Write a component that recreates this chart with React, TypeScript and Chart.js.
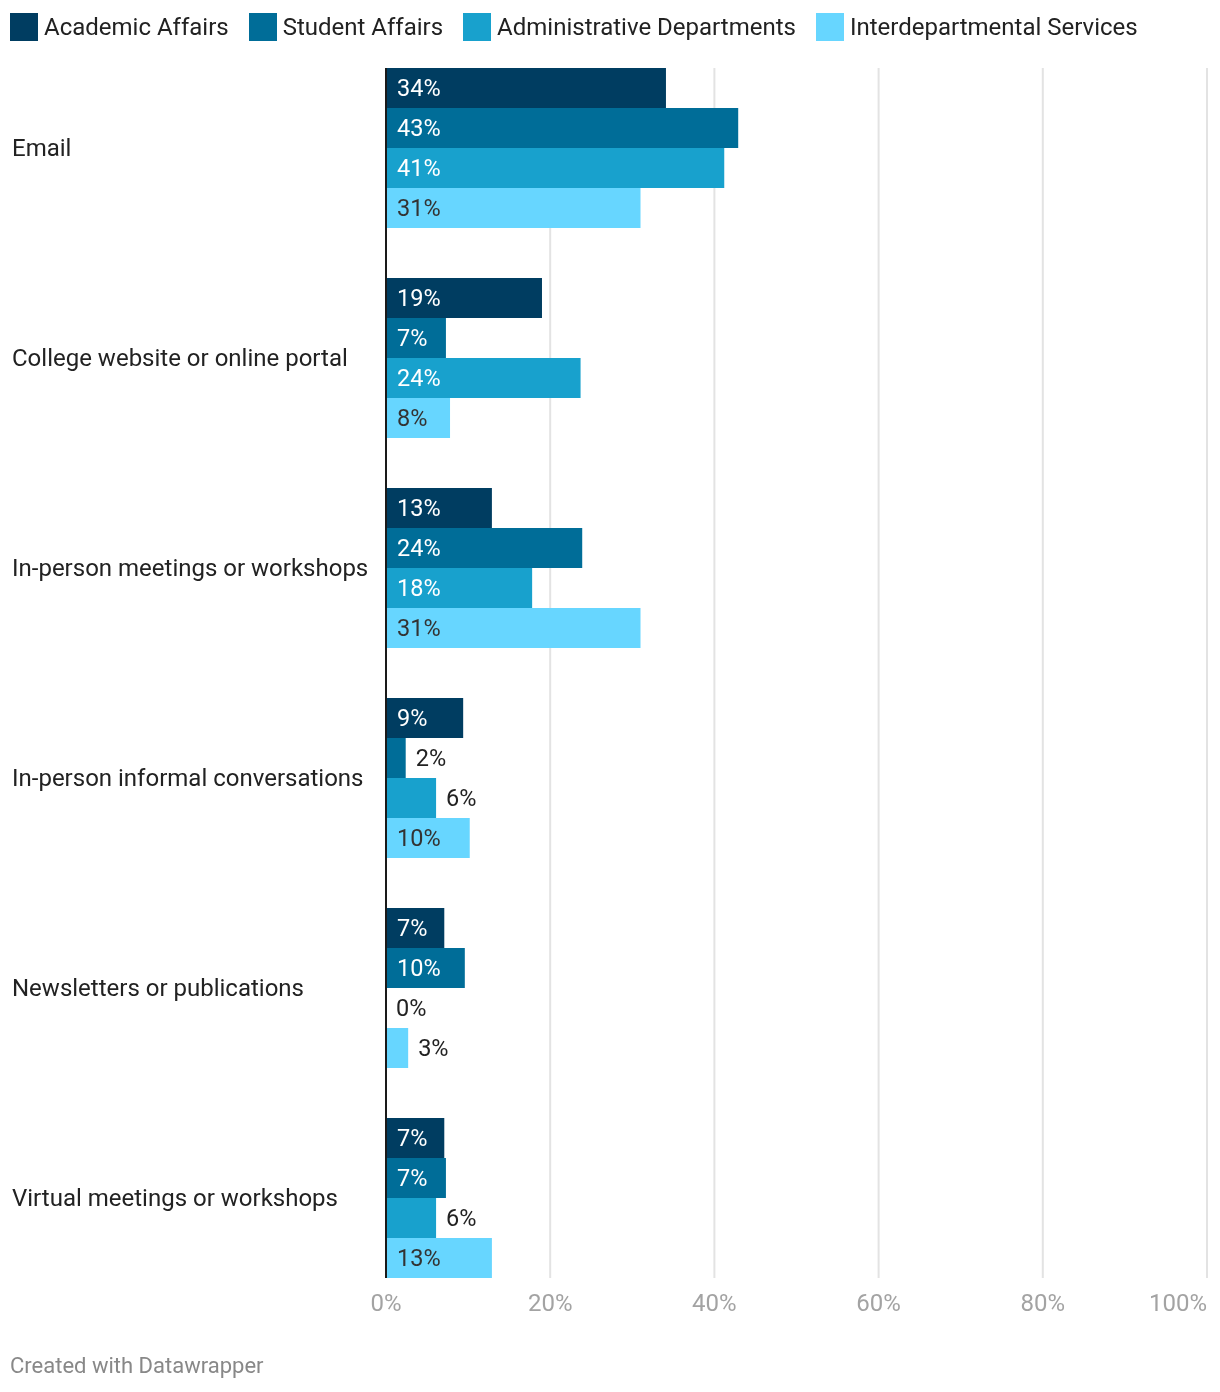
import React, { useEffect, useRef } from 'react';
import { Chart, registerables } from 'chart.js';

Chart.register(...registerables);

const categories = [
  'Email',
  'College website or online portal',
  'In-person meetings or workshops',
  'In-person informal conversations',
  'Newsletters or publications',
  'Virtual meetings or workshops',
];
const seriesNames = ['Academic Affairs', 'Student Affairs', 'Administrative Departments', 'Interdepartmental Services'];
const academicAffairs = [34.1, 19.0, 12.9, 9.4, 7.1, 7.1];
const studentAffairs = [42.9, 7.3, 23.9, 2.4, 9.6, 7.3];
const administrativeDepartments = [41.2, 23.7, 17.8, 6.1, 0, 6.1];
const interdepartmentalServices = [31.0, 7.8, 31.0, 10.2, 2.7, 12.9];
const seriesColors = ['#003d61', '#006d98', '#18a1cd', '#67d6ff'];
const insideLabelColors = ['#ffffff', '#ffffff', '#ffffff', '#333333'];
const xTickValues = [0, 20, 40, 60, 80, 100];
const xTickLabels = ['0%', '20%', '40%', '60%', '80%', '100%'];

const FONT = 'Roboto';

function barExtent(chart: any) {
  const n = chart.data.datasets.length;
  const first = chart.getDatasetMeta(0).data[0] as any;
  const lastMeta = chart.getDatasetMeta(n - 1);
  const last = lastMeta.data[lastMeta.data.length - 1] as any;
  return {
    top: first.y - first.height / 2,
    bottom: last.y + last.height / 2,
  };
}

const decorPlugin = {
  id: 'dwDecor',
  beforeDatasetsDraw(chart: any) {
    const { ctx } = chart;
    const xs = chart.scales.x;
    const { top, bottom } = barExtent(chart);
    ctx.save();
    ctx.strokeStyle = '#e3e3e3';
    ctx.lineWidth = 2;
    xTickValues.forEach((v) => {
      if (v === 0) return;
      const px = xs.getPixelForValue(v);
      ctx.beginPath();
      ctx.moveTo(px, top);
      ctx.lineTo(px, bottom);
      ctx.stroke();
    });
    ctx.restore();
  },
  afterDatasetsDraw(chart: any) {
    const { ctx, chartArea } = chart;
    const xs = chart.scales.x;
    const { top, bottom } = barExtent(chart);

    // zero baseline
    ctx.save();
    const zx = xs.getPixelForValue(0);
    ctx.strokeStyle = '#1a1a1a';
    ctx.lineWidth = 2;
    ctx.beginPath();
    ctx.moveTo(zx, top);
    ctx.lineTo(zx, bottom);
    ctx.stroke();

    // data labels
    ctx.font = `23.5px ${FONT}`;
    ctx.textBaseline = 'middle';
    ctx.textAlign = 'left';
    chart.data.datasets.forEach((ds: any, i: number) => {
      const meta = chart.getDatasetMeta(i);
      meta.data.forEach((el: any, j: number) => {
        const value = ds.data[j] as number;
        const label = `${Math.round(value)}%`;
        const tw = ctx.measureText(label).width;
        const w = el.x - el.base;
        if (tw + 22 <= w) {
          ctx.fillStyle = insideLabelColors[i];
          ctx.fillText(label, el.base + 11, el.y + 2);
        } else {
          ctx.fillStyle = '#222222';
          ctx.fillText(label, el.x + 10, el.y + 2);
        }
      });
    });

    // x tick labels
    ctx.fillStyle = '#a3a3a3';
    ctx.font = `24px ${FONT}`;
    xTickValues.forEach((v, k) => {
      const label = xTickLabels[k];
      const px = xs.getPixelForValue(v);
      const tw = ctx.measureText(label).width;
      let left = px - tw / 2;
      if (left + tw > chartArea.right) left = chartArea.right - tw;
      ctx.fillText(label, left, bottom + 27);
    });
    ctx.restore();
  },
};

export default function App() {
  const canvasRef = useRef<HTMLCanvasElement | null>(null);

  useEffect(() => {
    let chart: Chart | null = null;
    let cancelled = false;
    const build = () => {
      if (cancelled || !canvasRef.current) return;
      chart = new Chart(canvasRef.current, {
        type: 'bar',
        data: {
          labels: categories,
          datasets: [academicAffairs, studentAffairs, administrativeDepartments, interdepartmentalServices].map((d, i) => ({
            label: seriesNames[i],
            data: d,
            backgroundColor: seriesColors[i],
            borderWidth: 0,
            categoryPercentage: 160 / 210,
            barPercentage: 1,
          })),
        },
        options: {
          indexAxis: 'y',
          animation: false,
          responsive: false,
          maintainAspectRatio: false,
          layout: { padding: { left: 12, right: 13, top: 43, bottom: 89 } },
          plugins: { legend: { display: false }, tooltip: { enabled: false } },
          scales: {
            x: {
              type: 'linear',
              min: 0,
              max: 100,
              grid: { display: false },
              border: { display: false },
              ticks: { display: false },
              afterFit: (s: any) => {
                s.height = 0;
              },
            },
            y: {
              type: 'category',
              grid: { display: false },
              border: { display: false },
              ticks: {
                crossAlign: 'far',
                autoSkip: false,
                labelOffset: 2,
                color: '#222222',
                font: { family: FONT, size: 24 },
              },
              afterFit: (s: any) => {
                s.width = 374;
              },
            },
          },
        } as any,
        plugins: [decorPlugin],
      });
    };
    const fonts = (document as any).fonts;
    if (fonts && fonts.load) {
      Promise.all([fonts.load(`24px ${FONT}`), fonts.load(`22px ${FONT}`)]).then(build, build);
    } else {
      build();
    }
    return () => {
      cancelled = true;
      if (chart) chart.destroy();
    };
  }, []);

  return (
    <div style={{ position: 'absolute', left: 0, top: 0, width: 1220, height: 1392, background: '#fff', fontFamily: FONT }}>
      <canvas ref={canvasRef} width={1220} height={1392} style={{ position: 'absolute', left: 0, top: 0, display: 'block' }} />
      <div style={{ position: 'absolute', left: 10, top: 13, display: 'flex', alignItems: 'center' }}>
        {seriesNames.map((name, i) => (
          <div key={name} style={{ display: 'flex', alignItems: 'center', marginRight: 20 }}>
            <div style={{ width: 28, height: 28, background: seriesColors[i], marginRight: 6 }} />
            <span style={{ fontSize: 24, lineHeight: '28px', color: '#222222', whiteSpace: 'nowrap' }}>{name}</span>
          </div>
        ))}
      </div>
      <div style={{ position: 'absolute', left: 10, top: 1354, fontSize: 22, lineHeight: '24px', color: '#888888' }}>
        Created with Datawrapper
      </div>
    </div>
  );
}
